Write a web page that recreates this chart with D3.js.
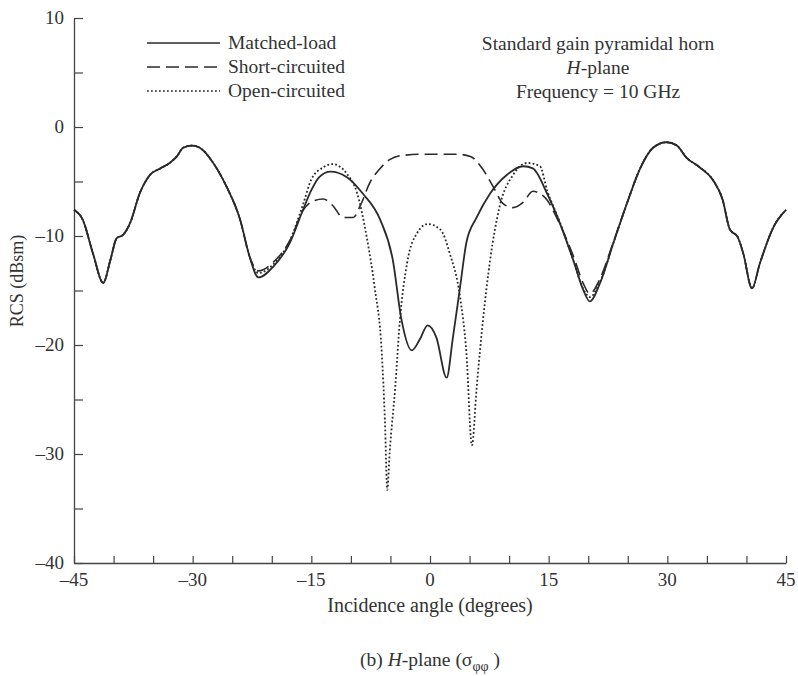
<html>
<script src="https://d3js.org/d3.v7.min.js"></script>
<style>
  body { margin: 0; background: #fff; }
  text { font-family: "Liberation Serif", "Times New Roman", serif; fill: #333; }
</style>
<body>
<svg id="chart" width="798" height="676"></svg>
<script>
// shared wings of the pattern (all three loads give the same curve here)
var leftAngles  = [-45, -43.9, -42.6, -41.3, -40.4, -39.6, -38.8, -37.9, -36.7, -35.4, -34.1, -32.9, -32, -31.2, -30.1, -29.1, -27.4, -25.7, -24, -22.8];
var leftValues  = [-7.6, -8.5, -11.6, -14.3, -12.2, -10.2, -9.9, -8.8, -6.1, -4.4, -3.8, -3.3, -2.7, -1.9, -1.7, -1.9, -3.3, -5.5, -8.5, -11.9];
var rightAngles = [24.9, 26.5, 28.2, 29.9, 31.2, 32.4, 34.1, 35.8, 37, 37.9, 38.9, 39.6, 40.7, 41.7, 43.4, 45];
var rightValues = [-7.0, -3.9, -1.9, -1.4, -1.7, -2.8, -3.7, -4.9, -6.7, -9.4, -10.1, -11.6, -14.8, -12.5, -9.2, -7.6];

// centre part of each curve
var matchedAngles = [-21.7, -19.8, -17.7, -16, -15, -14, -12.6, -10.5, -8.5, -6.3, -4.7, -3.6, -2.3, -1.3, -0.3, 0.8, 2.1, 2.9, 3.8, 4.6, 5.9, 7.6, 9.7, 11.8, 13, 14.8, 16.4, 18.1, 19.4, 20.2, 21.5, 23.2];
var matchedValues = [-13.8, -12.8, -10.6, -7.5, -5.8, -4.6, -4.1, -4.6, -6.1, -8.5, -12.2, -17.7, -20.5, -19.5, -18.2, -19.3, -23.0, -19.3, -14.7, -10.6, -8.3, -6.1, -4.4, -3.6, -3.8, -6.1, -8.8, -12.2, -15.0, -16.0, -14.3, -10.6];

var shortAngles = [-21.7, -19.8, -17.7, -16, -14.8, -13.5, -12.3, -11, -9.7, -8.8, -7.6, -6.3, -5.1, -3.4, -0.9, 3.4, 5.1, 6.7, 8, 9.2, 10.5, 11.8, 13, 14.8, 16, 18.1, 19.4, 20.2, 21.5, 23.2];
var shortValues = [-13.2, -12.4, -10.4, -7.6, -6.8, -6.6, -7.2, -8.3, -8.3, -7.2, -5.1, -3.8, -3.0, -2.6, -2.5, -2.5, -2.7, -3.9, -5.5, -7.0, -7.4, -6.9, -5.9, -6.7, -8.3, -11.8, -14.4, -15.3, -13.9, -10.5];

var openAngles = [-21.7, -19.8, -17.7, -16, -15, -13.5, -12.3, -10.5, -9.2, -8, -7, -6.1, -5.7, -5.4, -5.1, -4.4, -3.8, -2.9, -1.6, -0.3, 1.3, 2.5, 3.8, 4.6, 5.3, 5.9, 6.7, 7.6, 8.8, 10.5, 12.3, 13.9, 14.8, 16.4, 18.1, 19.4, 20.2, 21.5, 23.2];
var openValues = [-13.4, -12.6, -10.4, -7.0, -4.8, -3.7, -3.4, -4.3, -6.1, -10.1, -14.7, -20.7, -26.9, -33.3, -29.9, -23.9, -17.7, -12.5, -9.7, -8.9, -9.4, -11.6, -15.6, -20.7, -29.2, -23.9, -17.7, -12.2, -7.3, -4.4, -3.3, -3.6, -5.8, -8.7, -12.2, -14.9, -15.6, -14.2, -10.6];

var legendLabels = ["Matched-load", "Short-circuited", "Open-circuited"];
var xTickValues = [-45, -30, -15, 0, 15, 30, 45];
var yTickValues = [10, 0, -10, -20, -30, -40];

function buildSeries(a, v) {
  var ang = leftAngles.concat(a, rightAngles);
  var val = leftValues.concat(v, rightValues);
  return ang.map(function(d, i) { return [d, val[i]]; });
}

var series = [
  { name: legendLabels[0], pts: buildSeries(matchedAngles, matchedValues), dash: null, w: 1.8 },
  { name: legendLabels[1], pts: buildSeries(shortAngles, shortValues), dash: "13,6", w: 1.6 },
  { name: legendLabels[2], pts: buildSeries(openAngles, openValues), dash: "1.8,2.2", w: 1.8 }
];

var svg = d3.select("#chart");
var margin = { left: 74, top: 18 };
var width = 712, height = 545;

var x = d3.scaleLinear().domain([-45, 45]).range([0, width]);
var y = d3.scaleLinear().domain([-40, 10]).range([height, 0]);

var g = svg.append("g").attr("transform", "translate(" + margin.left + "," + margin.top + ")");

// axes: ticks point inward, labels only every 15 / 10
var xAxis = g.append("g").attr("transform", "translate(0," + height + ")")
  .call(d3.axisBottom(x).tickValues(d3.range(-45, 46, 5)).tickSizeInner(-7).tickSizeOuter(0).tickFormat(""));
var yAxis = g.append("g")
  .call(d3.axisLeft(y).tickValues(d3.range(-40, 11, 5)).tickSizeInner(-9).tickSizeOuter(0).tickFormat(""));
[xAxis, yAxis].forEach(function(a) {
  a.select(".domain").attr("stroke", "#444").attr("stroke-width", 1.3);
  a.selectAll(".tick line").attr("stroke", "#444").attr("stroke-width", 1.2);
});

function fmt(d) { return d < 0 ? "\u2013" + Math.abs(d) : String(d); }

g.selectAll(".xlab").data(xTickValues).enter().append("text")
  .attr("x", function(d) { return x(d); })
  .attr("y", height + 23)
  .attr("text-anchor", "middle")
  .style("font-size", "19px")
  .text(fmt);

g.selectAll(".ylab").data(yTickValues).enter().append("text")
  .attr("x", -10)
  .attr("y", function(d) { return y(d) + 6; })
  .attr("text-anchor", "end")
  .style("font-size", "19px")
  .text(fmt);

// curves
var line = d3.line()
  .x(function(d) { return x(d[0]); })
  .y(function(d) { return y(d[1]); })
  .curve(d3.curveMonotoneX);

series.slice().reverse().forEach(function(s) {
  g.append("path")
    .datum(s.pts)
    .attr("fill", "none")
    .attr("stroke", "#2a2a2a")
    .attr("stroke-width", s.w)
    .attr("stroke-dasharray", s.dash)
    .attr("d", line);
});

// legend
var legend = svg.append("g");
series.forEach(function(s, i) {
  var ly = 43 + i * 24;
  legend.append("line")
    .attr("x1", 147).attr("x2", 220).attr("y1", ly).attr("y2", ly)
    .attr("stroke", "#2a2a2a").attr("stroke-width", s.w - 0.3)
    .attr("stroke-dasharray", s.dash);
  legend.append("text")
    .attr("x", 228).attr("y", ly + 6)
    .style("font-size", "19.5px")
    .text(s.name);
});

// annotation
var note = svg.append("text").attr("text-anchor", "middle").style("font-size", "19.5px");
note.append("tspan").attr("x", 598).attr("y", 50).text("Standard gain pyramidal horn");
var n2 = note.append("tspan").attr("x", 598).attr("y", 74);
n2.append("tspan").style("font-style", "italic").text("H");
n2.append("tspan").text("-plane");
note.append("tspan").attr("x", 598).attr("y", 98).text("Frequency = 10 GHz");

// axis titles
svg.append("text")
  .attr("transform", "translate(23,281) rotate(-90)")
  .attr("text-anchor", "middle")
  .style("font-size", "18px")
  .text("RCS (dBsm)");

svg.append("text")
  .attr("x", 430).attr("y", 612)
  .attr("text-anchor", "middle")
  .style("font-size", "20px")
  .text("Incidence angle (degrees)");

var cap = svg.append("text")
  .attr("x", 430).attr("y", 666)
  .attr("text-anchor", "middle")
  .style("font-size", "19.5px");
cap.append("tspan").text("(b) ");
cap.append("tspan").style("font-style", "italic").text("H");
cap.append("tspan").text("-plane (\u03C3");
cap.append("tspan").attr("dy", 5).style("font-size", "14px").text("\u03C6\u03C6");
cap.append("tspan").attr("dy", -5).text(" )");
</script>
</body>
</html>
